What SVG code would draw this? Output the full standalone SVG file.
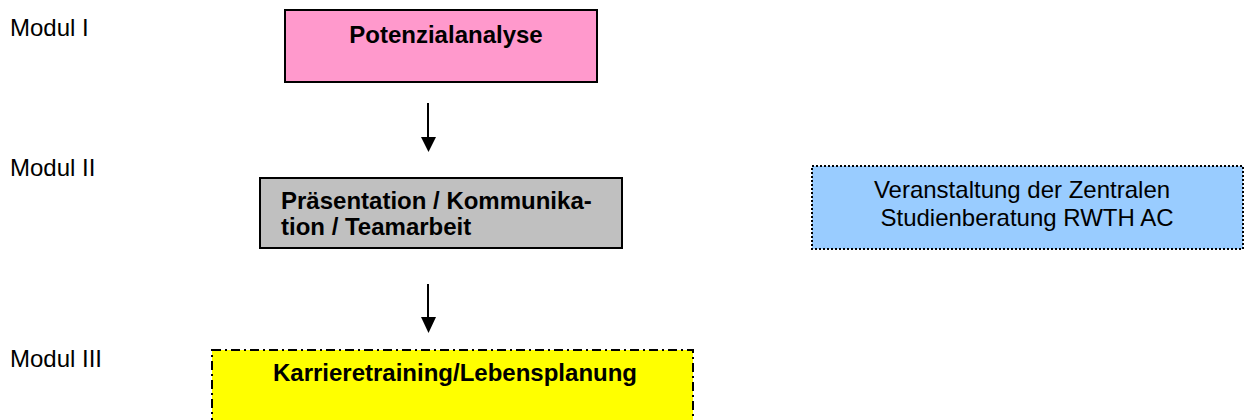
<svg xmlns="http://www.w3.org/2000/svg" width="1245" height="420" viewBox="0 0 1245 420">
<defs>
<style>
text{font-family:"Liberation Sans",Arial,sans-serif;font-size:24px;fill:#000}
.b{font-weight:bold}
.box{stroke:#000;stroke-width:2}
</style>
</defs>
<rect width="1245" height="420" fill="#fff"/>
<g id="labels">
<text x="10" y="36">Modul I</text>
<text x="10" y="176">Modul II</text>
<text x="10" y="367">Modul III</text>
</g>
<g id="potenzialanalyse">
<rect class="box" x="285" y="10" width="312" height="72" fill="#FF99CC"/>
<text class="b" x="446" y="43" text-anchor="middle">Potenzialanalyse</text>
</g>
<g id="praesentation">
<rect class="box" x="260" y="178" width="362" height="70" fill="#C0C0C0"/>
<text class="b" x="281" y="209">Präsentation / Kommunika-</text>
<text class="b" x="281" y="235">tion / Teamarbeit</text>
</g>
<g id="karriere">
<rect x="212" y="350" width="481" height="80" fill="#FFFF00" stroke="#000" stroke-width="2" stroke-dasharray="9,4,2,4"/>
<text class="b" x="455" y="381" text-anchor="middle">Karrieretraining/Lebensplanung</text>
</g>
<g id="veranstaltung">
<rect x="812" y="166" width="431" height="83" fill="#99CCFF" stroke="#000" stroke-width="2" stroke-dasharray="2,2"/>
<text x="1022" y="198" text-anchor="middle">Veranstaltung der Zentralen</text>
<text x="1027" y="226" text-anchor="middle">Studienberatung RWTH AC</text>
</g>
<g id="connectors" fill="#000" stroke="#000">
<line x1="428" y1="103" x2="428" y2="138" stroke-width="2"/>
<path d="M421,137 L436,137 L428.5,152 Z" stroke="none"/>
<line x1="428" y1="284" x2="428" y2="318" stroke-width="2"/>
<path d="M421,317 L436,317 L428.5,333 Z" stroke="none"/>
</g>
</svg>
